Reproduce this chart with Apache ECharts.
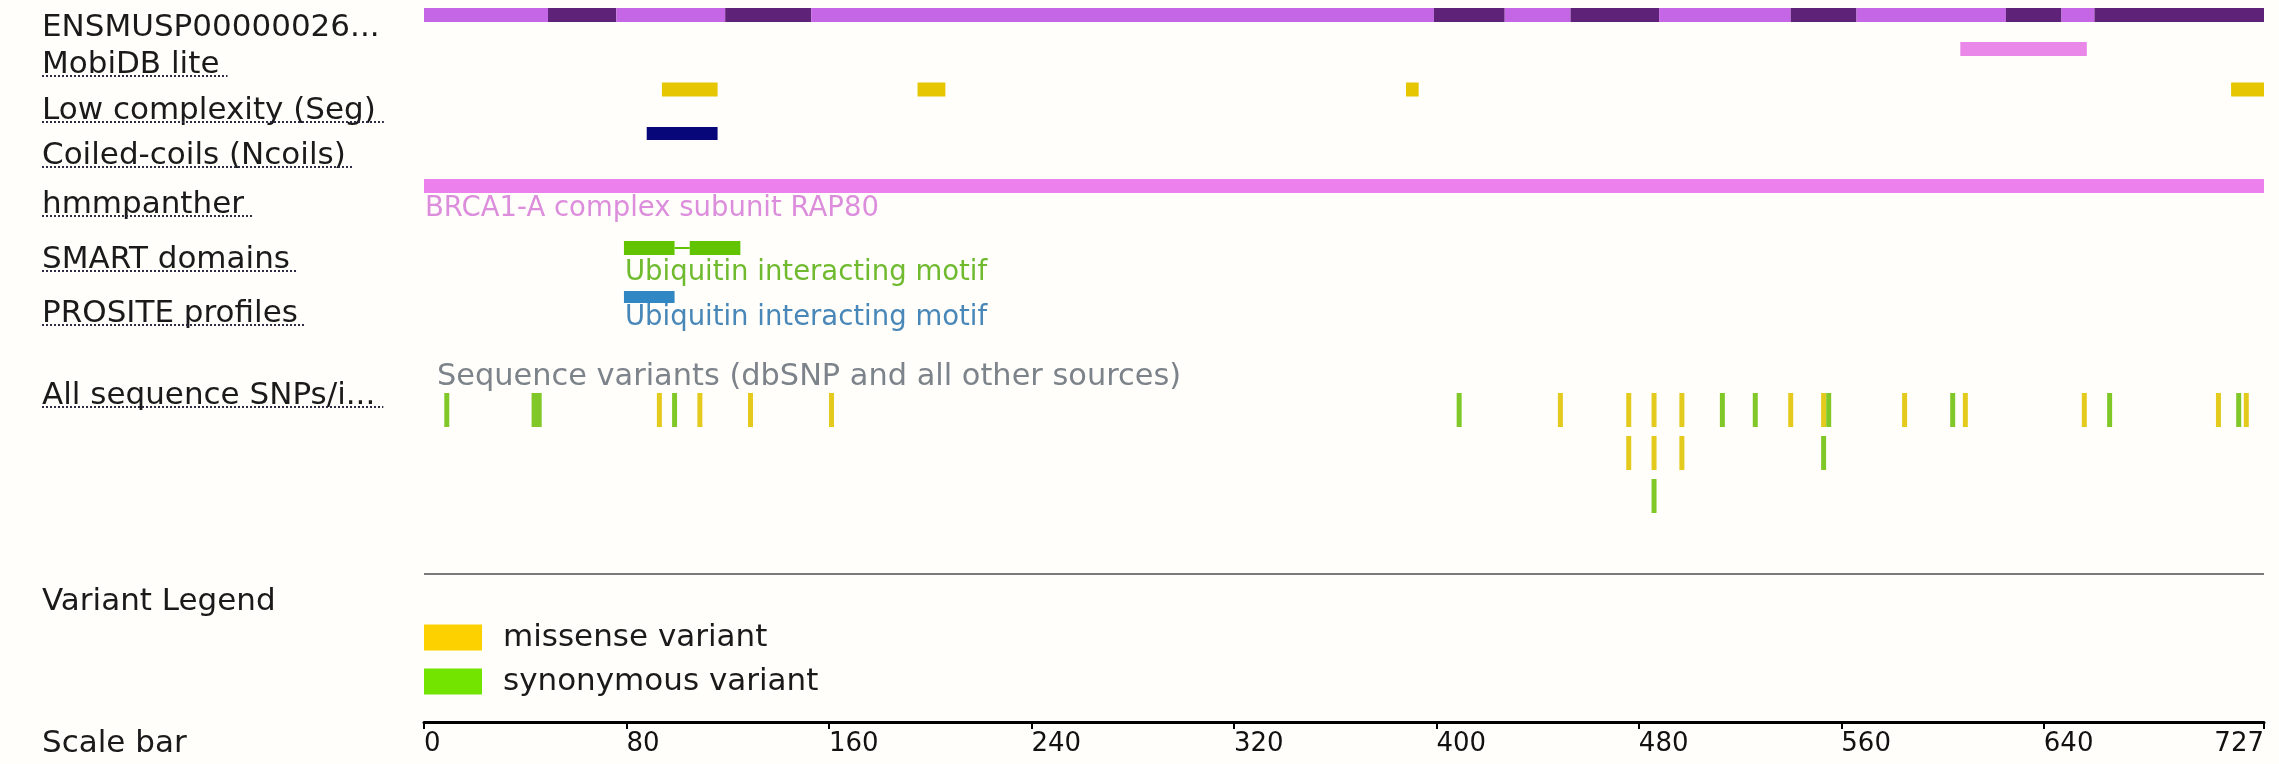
<!DOCTYPE html>
<html>
<head>
<meta charset="utf-8">
<title>ENSMUSP00000026 protein features</title>
<script src="https://cdn.jsdelivr.net/npm/echarts@6.0.0/dist/echarts.min.js"></script>
<style>
  html, body { margin: 0; padding: 0; background: #fffefa; }
  #chart { width: 2279px; height: 764px; }
</style>
</head>
<body>
<div id="chart"></div>
<script>
  const FONT = '"DejaVu Sans", Verdana, sans-serif';

  // scale bar
  const proteinLength = 727;
  const scaleTicks = [0, 80, 160, 240, 320, 400, 480, 560, 640, 727];

  // exon boundaries along the protein (alternating shades)
  const exonBreaks = [0, 49, 76, 119, 153, 399, 427, 453, 488, 540, 566, 625, 647, 660, 727];

  // feature tracks, [start, end]
  const mobidbLite = [[607, 657]];
  const lowComplexity = [[94, 116], [195, 206], [388, 393], [714, 727]];
  const coiledCoils = [[88, 116]];
  const hmmpanther = [[0, 727]];
  const hmmpantherNames = ['BRCA1-A complex subunit RAP80'];
  const smartDomains = [[79, 99], [105, 125]];
  const smartNames = ['Ubiquitin interacting motif', ''];
  const prositeProfiles = [[79, 99]];
  const prositeNames = ['Ubiquitin interacting motif'];

  // variants, [start, end, stacking row]
  const missenseVariants = [
    [93, 93, 1], [109, 109, 1], [129, 129, 1], [161, 161, 1], [449, 449, 1],
    [476, 476, 1], [486, 486, 1], [497, 497, 1], [540, 540, 1], [553, 553, 1],
    [585, 585, 1], [609, 609, 1], [656, 656, 1], [709, 709, 1], [720, 720, 1],
    [476, 476, 2], [486, 486, 2], [497, 497, 2]
  ];
  const synonymousVariants = [
    [9, 9, 1], [43, 46, 1], [99, 99, 1], [409, 409, 1], [513, 513, 1],
    [526, 526, 1], [555, 555, 1], [604, 604, 1], [666, 666, 1], [717, 717, 1],
    [553, 553, 2], [486, 486, 3]
  ];

  const trackTitles = ['ENSMUSP00000026...', 'MobiDB lite', 'Low complexity (Seg)', 'Coiled-coils (Ncoils)',
    'hmmpanther', 'SMART domains', 'PROSITE profiles', 'All sequence SNPs/i...', 'Variant Legend', 'Scale bar'];
  const titleUnderlined = [false, true, true, true, true, true, true, true, false, false];
  const variantTrackName = 'Sequence variants (dbSNP and all other sources)';
  const legendNames = ['missense variant', 'synonymous variant'];

  // layout (pixels)
  const W = 2279, GRID_LEFT = 424, GRID_RIGHT = 15, AXIS_Y = 722;
  const titleX = 42;
  const titleY = [25, 62, 108, 153, 202, 257, 311, 393, 599, 741];
  const lanes = {
    exon: { y: 15, h: 14 },
    mobidb: { y: 49, h: 14 },
    lowc: { y: 89.5, h: 14 },
    coil: { y: 133.5, h: 13 },
    panther: { y: 186, h: 14, labelY: 209 },
    smart: { y: 248, h: 14, labelY: 273 },
    prosite: { y: 297, h: 12, labelY: 318 }
  };
  const snpRowY = row => 410 + (row - 1) * 43;
  const SNP_H = 34;

  const measure = document.createElement('canvas').getContext('2d');
  function textWidth(t, size) {
    measure.font = size + 'px ' + FONT;
    return measure.measureText(t).width;
  }

  function featureSeries(name, rows, lane, color, names, labelColor) {
    return {
      type: 'custom',
      name: name,
      silent: true,
      clip: false,
      encode: { x: [0, 1], y: 2 },
      data: rows.map((r, i) => [r[0], r[1], lane.y, i]),
      renderItem: function (params, api) {
        const a = api.coord([api.value(0), api.value(2) - lane.h / 2]);
        const b = api.coord([api.value(1), api.value(2) + lane.h / 2]);
        const children = [{
          type: 'rect',
          shape: { x: a[0], y: a[1], width: Math.max(b[0] - a[0], 3), height: b[1] - a[1] },
          style: { fill: color }
        }];
        const label = names && names[api.value(3)];
        if (label) {
          children.push({
            type: 'text',
            x: a[0] + 1,
            y: api.coord([0, lane.labelY])[1],
            style: { text: label, fill: labelColor, font: '27.5px ' + FONT, verticalAlign: 'middle', align: 'left' }
          });
        }
        return { type: 'group', children: children };
      }
    };
  }

  function variantSeries(name, rows, color, legendColor) {
    return {
      type: 'custom',
      name: name,
      silent: true,
      itemStyle: { color: legendColor },
      encode: { x: [0, 1], y: 2 },
      data: rows.map(r => [r[0], r[1], snpRowY(r[2])]),
      renderItem: function (params, api) {
        const a = api.coord([api.value(0) - 0.5, api.value(2) - SNP_H / 2]);
        const b = api.coord([api.value(1) + 0.5, api.value(2) + SNP_H / 2]);
        let x = a[0], w = b[0] - a[0];
        if (w < 5) { x -= (5 - w) / 2; w = 5; }
        return { type: 'rect', shape: { x: x, y: a[1], width: w, height: b[1] - a[1] }, style: { fill: color } };
      }
    };
  }

  // exon segments with alternating colours
  let exonData = [];
  for (let i = 0; i < exonBreaks.length - 1; i++) {
    exonData.push([exonBreaks[i], exonBreaks[i + 1], lanes.exon.y, i % 2]);
  }
  // joins between consecutive SMART hits
  let smartJoins = [];
  for (let i = 0; i < smartDomains.length - 1; i++) {
    smartJoins.push([smartDomains[i][1], smartDomains[i + 1][0], lanes.smart.y]);
  }

  let graphics = [];
  trackTitles.forEach((t, i) => {
    graphics.push({
      type: 'text', left: titleX, top: titleY[i] - 13, silent: true,
      style: { text: t, font: '31px ' + FONT, fill: '#1a1a1a' }
    });
    if (titleUnderlined[i]) {
      const w = textWidth(t, 31);
      const uy = titleY[i] + 14;
      graphics.push({
        type: 'line', silent: true,
        shape: { x1: titleX, y1: uy, x2: titleX + w + 8, y2: uy },
        style: { stroke: '#2c2c44', lineWidth: 2, lineDash: [2, 2] }
      });
    }
  });
  graphics.push({
    type: 'text', left: GRID_LEFT + 13, top: 375 - 13, silent: true,
    style: { text: variantTrackName, font: '30.4px ' + FONT, fill: '#7d838a' }
  });
  graphics.push({
    type: 'line', silent: true,
    shape: { x1: GRID_LEFT, y1: 574, x2: W - GRID_RIGHT, y2: 574 },
    style: { stroke: '#7a7a7a', lineWidth: 2 }
  });

  const option = {
    backgroundColor: '#fffefa',
    animation: false,
    textStyle: { fontFamily: FONT },
    grid: { left: GRID_LEFT, right: GRID_RIGHT, top: 0, height: AXIS_Y, containLabel: false },
    legend: {
      data: legendNames,
      orient: 'vertical',
      left: GRID_LEFT,
      top: 622,
      padding: 0,
      icon: 'rect',
      itemWidth: 58,
      itemHeight: 26,
      itemGap: 13,
      selectedMode: false,
      textStyle: { fontSize: 31, color: '#1a1a1a', fontFamily: FONT, padding: [0, 0, 0, 16] }
    },
    xAxis: {
      type: 'value',
      min: 0,
      max: proteinLength,
      position: 'bottom',
      axisLine: { show: true, onZero: false, lineStyle: { color: '#000', width: 3 } },
      axisTick: { show: true, customValues: scaleTicks, length: 7, lineStyle: { color: '#000', width: 2 } },
      axisLabel: {
        customValues: scaleTicks,
        align: 'left',
        alignMaxLabel: 'right',
        margin: 9,
        fontSize: 26,
        color: '#111',
        fontFamily: FONT
      },
      splitLine: { show: false }
    },
    yAxis: { type: 'value', min: 0, max: AXIS_Y, inverse: true, show: false },
    graphic: graphics,
    series: [
      {
        type: 'custom',
        name: 'exons',
        silent: true,
        encode: { x: [0, 1], y: 2 },
        data: exonData,
        renderItem: function (params, api) {
          const a = api.coord([api.value(0), api.value(2) - lanes.exon.h / 2]);
          const b = api.coord([api.value(1), api.value(2) + lanes.exon.h / 2]);
          return {
            type: 'rect',
            shape: { x: a[0], y: a[1], width: b[0] - a[0], height: b[1] - a[1] },
            style: { fill: api.value(3) ? '#5f2279' : '#c466e6' }
          };
        }
      },
      featureSeries('MobiDB lite', mobidbLite, lanes.mobidb, '#ea88ea'),
      featureSeries('Low complexity', lowComplexity, lanes.lowc, '#e6c600'),
      featureSeries('Coiled-coils', coiledCoils, lanes.coil, '#07077a'),
      featureSeries('hmmpanther', hmmpanther, lanes.panther, '#ec80ec', hmmpantherNames, '#dc8edc'),
      {
        type: 'custom',
        name: 'smart joins',
        silent: true,
        encode: { x: [0, 1], y: 2 },
        data: smartJoins,
        renderItem: function (params, api) {
          const a = api.coord([api.value(0), api.value(2)]);
          const b = api.coord([api.value(1), api.value(2)]);
          return { type: 'line', shape: { x1: a[0], y1: a[1], x2: b[0], y2: b[1] }, style: { stroke: '#62c400', lineWidth: 2 } };
        }
      },
      featureSeries('SMART domains', smartDomains, lanes.smart, '#62c400', smartNames, '#6fba2e'),
      featureSeries('PROSITE profiles', prositeProfiles, lanes.prosite, '#3087c4', prositeNames, '#4887b8'),
      variantSeries('missense variant', missenseVariants, '#e4ca1c', '#fdd000'),
      variantSeries('synonymous variant', synonymousVariants, '#80c828', '#72e400')
    ]
  };

  const chart = echarts.init(document.getElementById('chart'));
  chart.setOption(option);
  window.addEventListener('resize', function () {
    chart.resize();
  }, false);
</script>
</body>
</html>
